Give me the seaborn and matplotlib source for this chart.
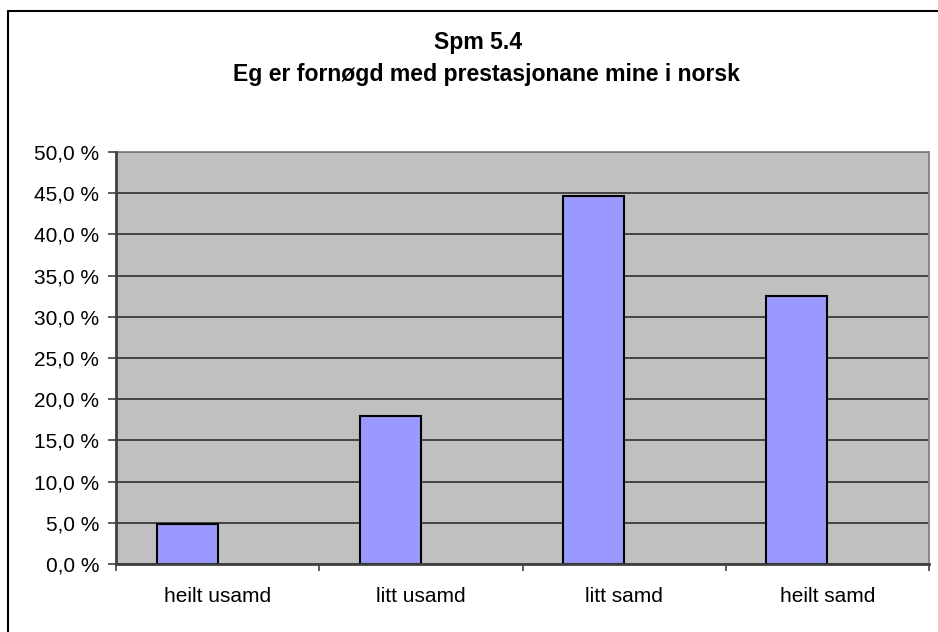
import numpy as np
import pandas as pd
import matplotlib
matplotlib.use("Agg")
import matplotlib.pyplot as plt
from matplotlib.lines import Line2D
from matplotlib.ticker import FixedLocator, FuncFormatter
import seaborn as sns

categories = ["heilt usamd", "litt usamd", "litt samd", "heilt samd"]
values = [4.85, 17.95, 44.7, 32.5]
series_names = ["Spm 5.4", "(tom)"]
title_lines = ["Spm 5.4", "Eg er fornøgd med prestasjonane mine i norsk"]
y_ticks = [0, 5, 10, 15, 20, 25, 30, 35, 40, 45, 50]

sns.set_theme(style="white")
plt.rcParams["font.family"] = ["Liberation Sans", "DejaVu Sans"]
plt.rcParams["text.color"] = "black"

df = pd.DataFrame({
    "kategori": categories + categories,
    "verdi": values + [np.nan] * len(categories),
    "serie": [series_names[0]] * len(categories) + [series_names[1]] * len(categories),
})
df = df.dropna()

fig = plt.figure(figsize=(9.38, 6.32), dpi=100)
fig.patch.set_facecolor("white")
ax = fig.add_axes([116 / 938, (632 - 564) / 632, (929 - 116) / 938, (564 - 152) / 632])
ax.set_facecolor("#C0C0C0")

sns.barplot(data=df, x="kategori", y="verdi", hue="serie",
            order=categories, hue_order=series_names,
            palette=["#9999FF", "#9999FF"], saturation=1, width=0.6, dodge=True,
            edgecolor="black", linewidth=1.5, legend=False, ax=ax, zorder=3)

ax.set_xlim(-0.5, len(categories) - 0.5)
ax.set_ylim(0, 50)

# gridlines
ax.yaxis.set_major_locator(FixedLocator(y_ticks))
ax.yaxis.set_major_formatter(FuncFormatter(lambda v, p: f"{v:.1f}".replace(".", ",") + " %"))
ax.grid(axis="y", color="#3a3a3a", linewidth=1.3, zorder=1)
ax.set_axisbelow(True)

# x ticks at boundaries, labels at centers
ax.set_xticks(np.arange(-0.5, len(categories) + 0.5, 1.0))
ax.set_xticklabels([])
ax.set_xticks(np.arange(len(categories)), minor=True)
ax.set_xticklabels(categories, minor=True)
ax.tick_params(axis="x", which="major", direction="out", length=5, width=1.2,
               color="#404040", bottom=True)
ax.tick_params(axis="x", which="minor", length=0, pad=16.5, labelsize=15, colors="black")
ax.tick_params(axis="y", which="major", direction="out", length=6, width=1.2,
               color="#404040", left=True, pad=6, labelsize=15, labelcolor="black")

ax.set_xlabel("")
ax.set_ylabel("")

for side in ["top", "right"]:
    ax.spines[side].set_visible(True)
    ax.spines[side].set_color("#808080")
    ax.spines[side].set_linewidth(1.3)
for side in ["left", "bottom"]:
    ax.spines[side].set_visible(True)
    ax.spines[side].set_color("#404040")
    ax.spines[side].set_linewidth(2)
    ax.spines[side].set_zorder(5)

fig.text(478 / 938, 1 - 43 / 632, title_lines[0], ha="center", va="center",
         fontsize=16.6, fontweight="bold", color="black")
fig.text(486 / 938, 1 - 75 / 632, title_lines[1], ha="center", va="center",
         fontsize=16.6, fontweight="bold", color="black")

# outer chart border (left and top visible)
fig.add_artist(Line2D([7.5 / 938, 7.5 / 938], [0, 1 - 10.5 / 632], transform=fig.transFigure,
                      color="black", linewidth=1.5))
fig.add_artist(Line2D([7.5 / 938, 1], [1 - 10.5 / 632, 1 - 10.5 / 632], transform=fig.transFigure,
                      color="black", linewidth=1.5))

fig.savefig("out.png", dpi=100)
